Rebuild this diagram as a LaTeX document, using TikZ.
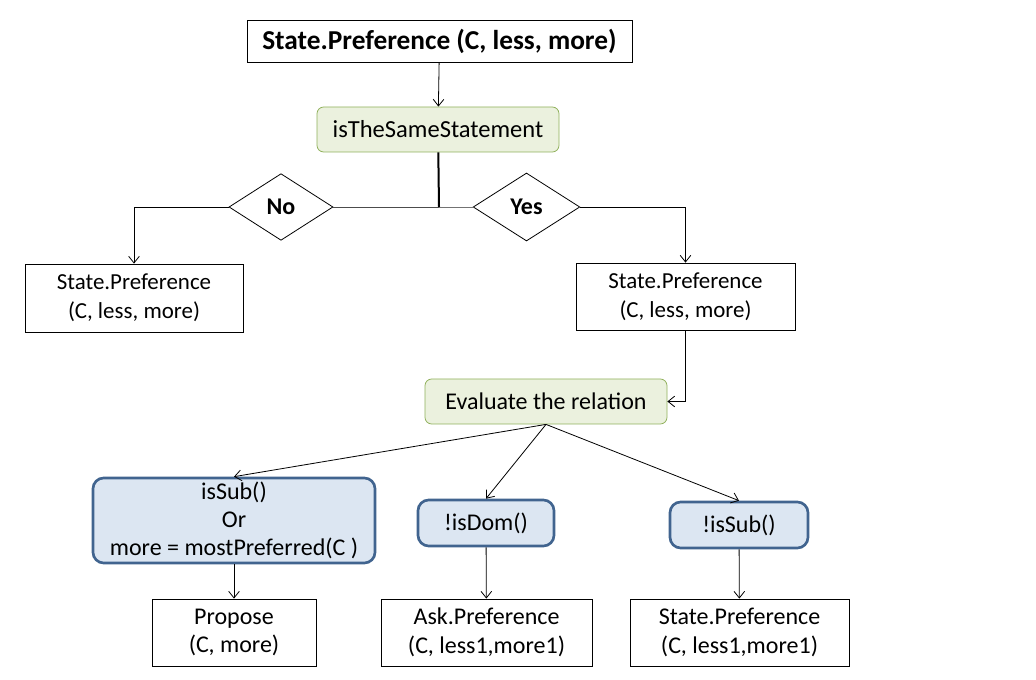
\documentclass[tikz,border=0pt]{standalone}
\usepackage{fontspec}
\setmainfont{Carlito}
\usepackage{tikz}
\usetikzlibrary{arrows.meta}
\usetikzlibrary{shapes.geometric}
\definecolor{testfill}{HTML}{EBF1DE}
\definecolor{testline}{HTML}{8FB05A}
\definecolor{condfill}{HTML}{DCE6F2}
\definecolor{condline}{HTML}{41648F}
\tikzset{
 every node/.style={font=\fontsize{18}{21.5}\selectfont, align=center, inner sep=0pt},
 box/.style={draw, fill=white, line width=.6pt},
 test/.style={draw=testline, fill=testfill, rounded corners=5pt, line width=.6pt},
 cond/.style={draw=condline, fill=condfill, rounded corners=8pt, line width=2pt},
 choice/.style={diamond, draw, line width=.6pt, font=\fontsize{18}{21}\selectfont\bfseries},
 link/.style={line width=.6pt, -{Straight Barb[length=5pt,width=8pt]}},
}
\begin{document}
\begin{tikzpicture} [x=.75pt, y=-.75pt]
\useasboundingbox (0,0) rectangle (1036,680);
% top of the chart
\node[box, minimum width=288.75pt, minimum height=31.5pt, font=\fontsize{20.5}{24}\selectfont\bfseries] (top) at (439.5,41) {State.Preference (C, less, more)};
\node[test, minimum width=181.5pt, minimum height=33.75pt, font=\fontsize{18.4}{22}\selectfont] (same) at (438,129.5) {isTheSameStatement};
\coordinate (split) at (439,207);
\node[choice, minimum width=78pt, minimum height=50pt] (no) at (281,207) {No};
\node[choice, minimum width=80pt, minimum height=51pt] (yes) at (526.5,207) {Yes};
\node[box, minimum width=163.5pt, minimum height=51pt, font=\fontsize{17.2}{21.5}\selectfont] (keep) at (134,298) {State.Preference\\(C, less, more)};
\node[box, minimum width=164.25pt, minimum height=50.25pt, font=\fontsize{17.2}{21.5}\selectfont] (state) at (685.5,296.5) {State.Preference\\(C, less, more)};
% relation
\node[test, minimum width=181.5pt, minimum height=33.75pt] (eval) at (546,401.5) {Evaluate the relation};
\node[cond, minimum width=211.5pt, minimum height=63.75pt, font=\fontsize{18}{21}\selectfont] (sub) at (234,520.5) {isSub()\\Or\\more = mostPreferred(C )};
\node[cond, minimum width=102pt, minimum height=34.5pt] (dom) at (486,523) {!isDom()};
\node[cond, minimum width=103.5pt, minimum height=34.5pt] (nsub) at (739,525) {!isSub()};
\node[box, minimum width=123pt, minimum height=50.25pt] (propose) at (234,632.5) {Propose\\(C, more)};
\node[box, minimum width=158.25pt, minimum height=50.25pt] (ask) at (486.5,632.5) {Ask.Preference\\(C, less1,more1)};
\node[box, minimum width=164.25pt, minimum height=50.25pt] (restate) at (739.5,632.5) {State.Preference\\(C, less1,more1)};
% connectors
\draw[link] (top) -- (same);
\draw[line width=1.5pt] (same) -- (split);
\draw[black!70, line width=.6pt] (split) -- (no.east);
\draw[black!55, line width=.6pt] (split) -- (yes.west);
\draw[link] (no.west) -| (keep);
\draw[link] (yes.east) -| (state);
\draw[link] (state) |- (eval);
\draw[link] (eval.south) -- (sub.north);
\draw[link] (eval.south) -- (dom.north);
\draw[link] (eval.south) -- (nsub.north);
\draw[link] (sub) -- (propose);
\draw[link] (dom) -- (ask);
\draw[link] (nsub) -- (restate);
\end{tikzpicture}
\end{document}
